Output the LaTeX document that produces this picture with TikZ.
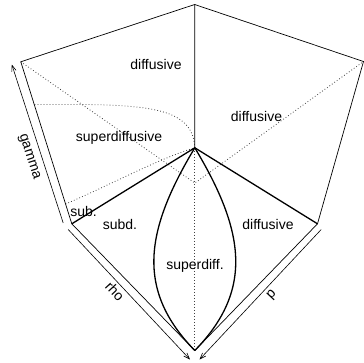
\documentclass[tikz,border=0pt]{standalone}
\usepackage{fontspec}
\setmainfont{Liberation Sans}
\usetikzlibrary{arrows.meta}
\begin{document}
\begin{tikzpicture}[x=1bp,y=-1bp,
  thinline/.style={line width=0.7bp, black},
  boldline/.style={line width=1.3bp, black},
  dotline/.style={line width=0.8bp, black!75, dash pattern=on 0.8bp off 2.2bp},
  axisline/.style={line width=0.6bp, black, -{Straight Barb[length=6bp,width=4.5bp]}},
  lbl/.style={font=\fontsize{14bp}{16bp}\selectfont, inner sep=0pt, anchor=base},
  rlbl/.style={font=\fontsize{14bp}{16bp}\selectfont, inner sep=0pt}]
\useasboundingbox (0,0) rectangle (364,363);
% vertices
\coordinate (T) at (194.7,4.5);
\coordinate (L) at (20.8,61.8);
\coordinate (R) at (363.5,61.5);
\coordinate (C) at (194.8,147.8);
\coordinate (LL) at (71.8,223.8);
\coordinate (RL) at (317.5,223.8);
\coordinate (B) at (194.8,350.5);
\coordinate (D) at (194.8,183);
\coordinate (E1) at (34.6,104.5);
\coordinate (E2) at (65.6,204);
% axis end points
\coordinate (ga0) at (63.2,223);
\coordinate (ga1) at (11.8,64.5);
\coordinate (rh0) at (68.2,229.5);
\coordinate (rh1) at (190,359.5);
\coordinate (pp0) at (321.2,229.5);
\coordinate (pp1) at (199.5,359.5);
% dotted (hidden) lines
\draw[dotline] (L) -- (D) -- (R);
\draw[dotline] (C) -- (B);
\draw[dotline] (E1) .. controls (140,104) and (193,104) .. (C);
\draw[dotline] (E2) .. controls (110,185) and (160,158) .. (C);
% box edges
\draw[thinline] (LL) -- (L) -- (T) -- (R) -- (RL);
\draw[thinline] (T) -- (C);
\draw[thinline] (LL) -- (B) -- (RL);
% bold phase boundaries
\draw[boldline] (LL) -- (C) -- (RL);
\draw[boldline] (C) .. controls (144.8,231) and (135.8,290) .. (B);
\draw[boldline] (C) .. controls (244.8,231) and (253.8,290) .. (B);
% axes
\draw[axisline] (ga0) -- (ga1);
\draw[axisline] (rh0) -- (rh1);
\draw[axisline] (pp0) -- (pp1);
% labels
\node[lbl] (d1) at (156,69) {diffusive};
\node[lbl] (s1) at (119,141.5) {superdiffusive};
\node[lbl] (d2) at (256.5,121.5) {diffusive};
\node[lbl] (sb) at (83.5,216) {sub.};
\node[lbl] (sd) at (120,229) {subd.};
\node[lbl] (sp) at (195,269) {superdiff.};
\node[lbl] (d3) at (268,229) {diffusive};
\node[rlbl, rotate=-72] (gm) at (29,157) {gamma};
\node[rlbl, rotate=-47] (rho) at (115,291) {rho};
\node[rlbl, rotate=47] (pl) at (272,295) {p};
\end{tikzpicture}
\end{document}
